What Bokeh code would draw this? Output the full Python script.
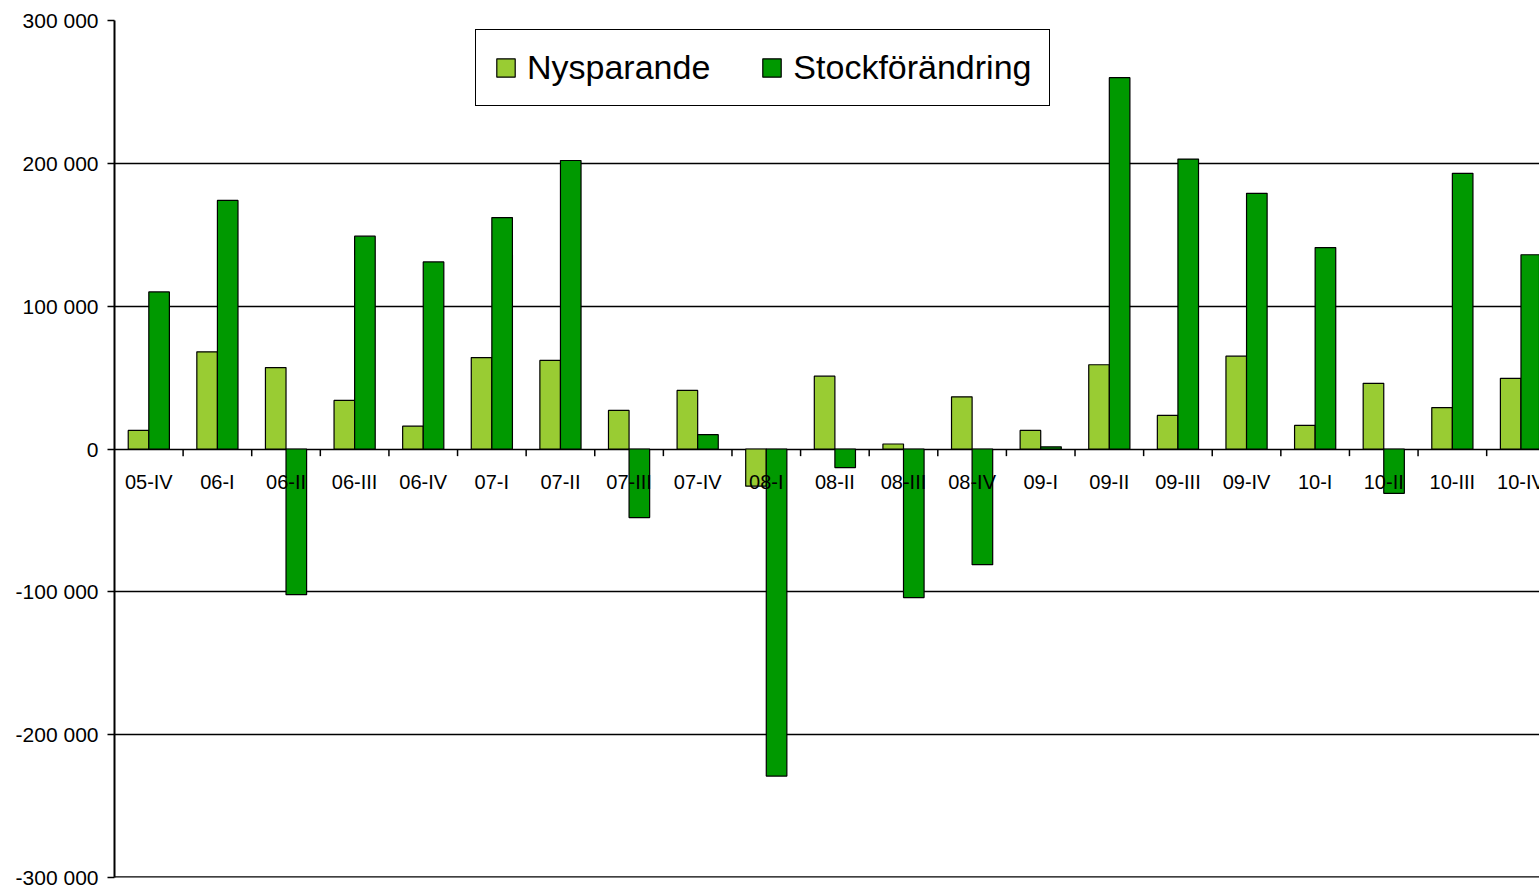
from bokeh.plotting import figure
from bokeh.models import Range1d, FixedTicker, Legend, LegendItem, ColumnDataSource, Span
from bokeh.core.properties import value
from bokeh.embed import file_html
from bokeh.resources import INLINE

categories = ["05-IV", "06-I", "06-II", "06-III", "06-IV", "07-I", "07-II", "07-III", "07-IV",
              "08-I", "08-II", "08-III", "08-IV", "09-I", "09-II", "09-III", "09-IV",
              "10-I", "10-II", "10-III", "10-IV"]
nysparande = [13000, 68000, 57000, 34000, 16000, 64000, 62000, 27000, 41000,
              -26000, 51000, 3500, 36500, 13000, 59000, 23500, 65000,
              16500, 46000, 29000, 49500]
stockforandring = [110000, 174000, -102000, 149000, 131000, 162000, 202000, -48000, 10000,
                   -229000, -13000, -104000, -81000, 1500, 260000, 203000, 179000,
                   141000, -31000, 193000, 136000]
y_ticks = [-300000, -200000, -100000, 0, 100000, 200000, 300000]
y_labels = ["-300 000", "-200 000", "-100 000", "0", "100 000", "200 000", "300 000"]

FONT = "Liberation Sans"
LIGHT = "#99CC33"
DARK = "#009900"

n = len(categories)
xs = list(range(n))
src = ColumnDataSource(dict(
    x=xs,
    xl=[x - 0.15 for x in xs],
    xd=[x + 0.15 for x in xs],
    ny=nysparande,
    st=stockforandring,
    lab=categories,
    ly=[0] * n,
))
bsrc = ColumnDataSource(dict(bx=[x + 0.5 for x in xs[:-1]], by0=[0] * (n - 1), by1=[-5000] * (n - 1)))

p = figure(width=1539, height=890, output_backend="svg", toolbar_location=None,
           x_range=Range1d(-0.5, 20.27), y_range=Range1d(-300000, 300000),
           min_border_left=114, min_border_top=20, min_border_bottom=13, min_border_right=0)
p.outline_line_color = None
p.background_fill_color = "white"
p.border_fill_color = "white"

p.xaxis.visible = False
p.xgrid.visible = False

p.yaxis.ticker = FixedTicker(ticks=y_ticks)
p.yaxis.major_label_overrides = {float(t): l for t, l in zip(y_ticks, y_labels)}
p.yaxis.minor_tick_line_color = None
p.yaxis.major_tick_out = 7
p.yaxis.major_tick_in = 0
p.yaxis.major_tick_line_color = "black"
p.yaxis.major_tick_line_width = 1.5
p.yaxis.axis_line_color = "black"
p.yaxis.axis_line_width = 2
p.yaxis.major_label_text_font = FONT
p.yaxis.major_label_text_font_size = "21px"
p.yaxis.major_label_text_color = "black"
p.yaxis.major_label_standoff = 9

p.ygrid.ticker = FixedTicker(ticks=y_ticks)
p.ygrid.grid_line_color = "black"
p.ygrid.grid_line_width = 1.3

p.add_layout(Span(location=-300000, dimension="width", line_color="black", line_width=2.5))

r1 = p.vbar(x="xl", top="ny", bottom=0, width=0.3, source=src,
            fill_color=LIGHT, line_color="black", line_width=1.2)
r2 = p.vbar(x="xd", top="st", bottom=0, width=0.3, source=src,
            fill_color=DARK, line_color="black", line_width=1.2)

# category axis drawn at zero
p.segment(x0="bx", y0="by0", x1="bx", y1="by1", source=bsrc, line_color="black", line_width=1.5)
p.text(x="x", y="ly", text="lab", source=src, text_font=value(FONT), text_font_size="20px",
       text_color="black", text_align="center", text_baseline="top", y_offset=22)

legend = Legend(items=[LegendItem(label="Nysparande", renderers=[r1]),
                       LegendItem(label="Stockförändring", renderers=[r2])],
                orientation="horizontal", location=(361, 771))
legend.label_text_font = FONT
legend.label_text_font_size = "34px"
legend.label_text_color = "black"
legend.glyph_width = 23
legend.glyph_height = 23
legend.label_standoff = 10
legend.spacing = 50
legend.padding = 18
legend.margin = 0
legend.border_line_color = "black"
legend.border_line_alpha = 1
legend.border_line_width = 1.5
legend.background_fill_alpha = 1
p.add_layout(legend, "center")

open("out.html", "w").write(file_html(p, INLINE))
